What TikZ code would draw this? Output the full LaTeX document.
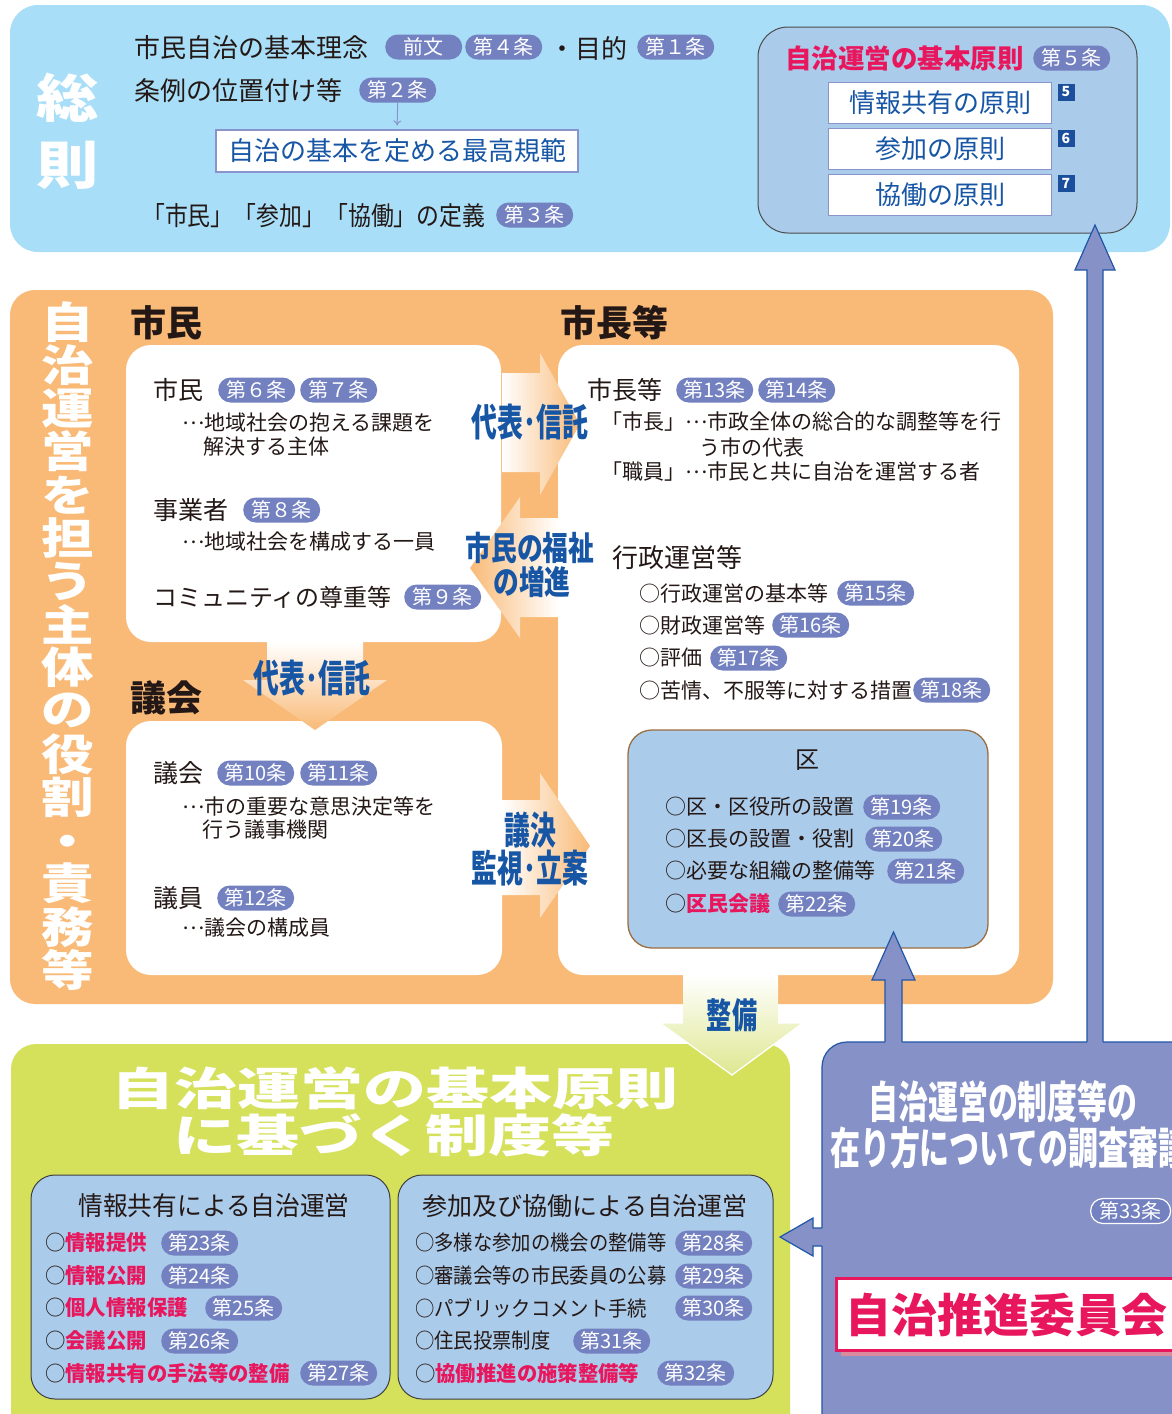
\documentclass[tikz,border=0pt]{standalone}
\usepackage{fontspec}
\setmainfont{Noto Sans CJK JP}
\usetikzlibrary{shapes.misc,arrows.meta}
\definecolor{skyc}{HTML}{A8DEF7}
\definecolor{orc}{HTML}{F9BA77}
\definecolor{grc}{HTML}{D5E05B}
\definecolor{ibc}{HTML}{ABCBEB}
\definecolor{ppc}{HTML}{8591C7}
\definecolor{bdc}{HTML}{7381C0}
\definecolor{redc}{HTML}{E8175D}
\definecolor{bluec}{HTML}{1656A5}
\definecolor{txc}{HTML}{231815}
\definecolor{navyc}{HTML}{1B4F9C}
\definecolor{pborder}{HTML}{2256A6}
\definecolor{lpur}{HTML}{8A93CC}
\definecolor{kuedge}{HTML}{9A6E40}
\definecolor{pinksh}{HTML}{D98A9C}
\definecolor{pgreen}{HTML}{DEE790}
\newcommand\fs[1]{\fontsize{#1}{#1}\selectfont}
\newcommand\sx[2]{\scalebox{#1}[1]{#2}}
\newcommand\dts{\raisebox{0.32em}{…}}
\begin{document}
\begin{tikzpicture}[x=1pt,y=-1pt,
 tx/.style={inner sep=0pt, anchor=west, text=txc},
 bd/.style={rounded rectangle, fill=bdc, text=white, inner sep=0pt, minimum height=25pt, minimum width=77pt, font=\fs{20}, anchor=west},
 wround/.style={fill=white, rounded corners=25pt, inner sep=0pt},
 ibox/.style={fill=ibc, draw=black!75, line width=1pt, rounded corners=24pt, inner sep=0pt},
 prbox/.style={fill=white, draw=lpur, line width=1.2pt, minimum width=223pt, minimum height=41pt, inner sep=0pt, font=\fs{26}, text=bluec},
 numsq/.style={fill=navyc, text=white, minimum size=17pt, inner sep=0pt, font=\fs{14}\bfseries},
 arrtx/.style={text=bluec, font=\fs{38}\bfseries, inner sep=0pt},
 wtitle/.style={text=white, font=\fs{50}\bfseries, inner sep=0pt},
 vchar/.style={text=white, font=\fs{43}\bfseries, inner sep=0pt},
 pfill/.style={fill=ppc},
 pline/.style={draw=pborder, line width=1.2pt, line join=miter},
 heading/.style={tx, font=\fs{36}\bfseries},
 item/.style={tx, font=\fs{25}},
 desc/.style={tx, font=\fs{21}},
 gitem/.style={tx, font=\fs{21}}
]
\useasboundingbox (0,0) rectangle (1172,1414);
\clip (0,0) rectangle (1172,1414);
\fill[white] (0,0) rectangle (1172,1414);

% ===== top section =====
\node[fill=skyc, rounded corners=28pt, minimum width=1160pt, minimum height=247pt, inner sep=0pt] (sky) at (590,128.5) {};
\node[wtitle, font=\fs{52}\bfseries] (so1) at (68,98) {\sx{1.2}{総}};
\node[wtitle, font=\fs{52}\bfseries] (so2) at (68,165) {\sx{1.2}{則}};

\node[tx, font=\fs{26}] (rinen) at (134,48) {市民自治の基本理念};
\node[bd] (bzen) at (385,47) {前文};
\node[bd] (b4) at (465,47) {第４条};
\node[tx, font=\fs{26}] (mokuteki) at (549,48) {・目的};
\node[bd] (b1) at (637,47) {第１条};
\node[tx, font=\fs{26}] (ichi) at (134,91) {条例の位置付け等};
\node[bd] (b2) at (359,90) {第２条};
\node[fill=white, draw=lpur, line width=1.2pt, minimum width=362pt, minimum height=42pt, inner sep=0pt, font=\fs{26}, text=bluec] (kihan) at (397,151) {自治の基本を定める最高規範};
\draw[lpur, line width=1pt, -{To[length=5pt,width=8pt]}, shorten >=4pt] (b2.south) -- (kihan.north);
\node[tx, font=\fs{26}] (teigi) at (142,216) {\sx{0.88}{「市民」「参加」「協働」の定義}};
\node[bd] (b3) at (496,215) {第３条};

\node[ibox, draw=black!70, rounded corners=30pt, minimum width=379pt, minimum height=206pt] (gbox) at (947.5,130) {};
\node[tx, font=\fs{26.5}\bfseries, text=redc] (gtitle) at (785,58) {自治運営の基本原則};
\node[bd] (b5) at (1033,58) {第５条};
\node[prbox] (g1) at (940,103) {情報共有の原則};
\node[prbox] (g2) at (940,149) {参加の原則};
\node[prbox] (g3) at (940,195) {協働の原則};
\node[numsq] (n5) at (1066,92) {5};
\node[numsq] (n6) at (1066,138) {6};
\node[numsq] (n7) at (1066,183) {7};

% ===== orange section =====
\node[fill=orc, rounded corners=25pt, minimum width=1043pt, minimum height=714pt, inner sep=0pt] (obox) at (531.5,647) {};
\foreach \c [count=\i from 0] in {自,治,運,営,を,担,う,主,体,の,役,割}
  \node[vchar] (v\i) at (68,322+43.2*\i) {\sx{1.22}{\c}};
\node[vchar] (vdot) at (68,846) {\sx{1.22}{・}};
\foreach \c [count=\i from 13] in {責,務,等}
  \node[vchar] (v\i) at (68,322+43.2*\i) {\sx{1.22}{\c}};

\node[heading] (hs) at (130,323) {市民};
\node[heading] (hm) at (560,323) {市長等};
\node[heading] (hg) at (130,698) {議会};

\node[wround, minimum width=375pt, minimum height=297pt] (bs) at (313.5,493.5) {};
\node[wround, minimum width=461pt, minimum height=630pt] (bm) at (788.5,660) {};
\node[wround, minimum width=376pt, minimum height=254pt] (bg) at (314,848) {};

% citizens
\node[item] (s1) at (153,390) {市民};
\node[bd] (b6) at (218,390) {第６条};
\node[bd] (b7) at (300,390) {第７条};
\node[desc] (s1a) at (182,423) {\dts 地域社会の抱える課題を};
\node[desc] (s1b) at (203,447) {解決する主体};
\node[item] (s2) at (153,510) {事業者};
\node[bd] (b8) at (243,510) {第８条};
\node[desc] (s2a) at (182,542) {\dts 地域社会を構成する一員};
\node[item, font=\fs{24}] (s3) at (153,597) {コミュニティの尊重等};
\node[bd] (b9) at (404,597) {第９条};

% mayor
\node[item] (m1) at (587,390) {市長等};
\node[bd] (b13) at (676,390) {第13条};
\node[bd] (b14) at (758,390) {第14条};
\node[desc] (m1a) at (601,422) {「市長」\dts 市政全体の総合的な調整等を行};
\node[desc] (m1b) at (699,447) {う市の代表};
\node[desc] (m1c) at (601,472) {「職員」\dts 市民と共に自治を運営する者};
\node[tx, font=\fs{26}] (m2) at (612,558) {行政運営等};
\node[desc] (m2a) at (639,593) {○行政運営の基本等};
\node[bd] (b15) at (837,593) {第15条};
\node[desc] (m2b) at (639,625) {○財政運営等};
\node[bd] (b16) at (772,625) {第16条};
\node[desc] (m2c) at (639,658) {○評価};
\node[bd] (b17) at (710,658) {第17条};
\node[desc] (m2d) at (639,690) {○苦情、不服等に対する措置};
\node[bd] (b18) at (913,690) {第18条};

% ward
\node[ibox, draw=kuedge, line width=1.3pt, minimum width=360pt, minimum height=218pt] (ku) at (808,839) {};
\node[font=\fs{24}, text=txc, inner sep=0pt] (kut) at (807,760) {区};
\node[desc] (k1) at (665,807) {○区・区役所の設置};
\node[bd] (b19) at (863,807) {第19条};
\node[desc] (k2) at (665,839) {○区長の設置・役割};
\node[bd] (b20) at (865,839) {第20条};
\node[desc] (k3) at (665,871) {○必要な組織の整備等};
\node[bd] (b21) at (887,871) {第21条};
\node[desc] (k4) at (665,904) {○\textcolor{redc}{\bfseries 区民会議}};
\node[bd] (b22) at (778,904) {第22条};

% council
\node[item] (g1i) at (153,773) {議会};
\node[bd] (b10) at (217,773) {第10条};
\node[bd] (b11) at (300,773) {第11条};
\node[desc] (g1a) at (182,807) {\dts 市の重要な意思決定等を};
\node[desc] (g1b) at (202,830) {行う議事機関};
\node[item] (g2i) at (153,898) {議員};
\node[bd] (b12) at (217,898) {第12条};
\node[desc] (g2a) at (182,928) {\dts 議会の構成員};

% ===== green section =====
\node[fill=grc, rounded corners=25pt, minimum width=779pt, minimum height=400pt, inner sep=0pt] (grbox) at (400.5,1244) {};
\node[wtitle, font=\fs{45}\bfseries] (gt1) at (395,1088) {\sx{1.4}{自治運営の基本原則}};
\node[wtitle, font=\fs{45}\bfseries] (gt2) at (394,1135) {\sx{1.4}{に基づく制度等}};

\node[ibox, minimum width=359pt, minimum height=224pt] (jbox) at (210.5,1287) {};
\node[ibox, minimum width=375pt, minimum height=224pt] (sbox) at (585.5,1287) {};
\node[font=\fs{26}, text=txc, inner sep=0pt] (jt) at (214,1206) {\sx{0.95}{情報共有による自治運営}};
\node[font=\fs{25}, text=txc, inner sep=0pt] (st) at (585,1206) {参加及び協働による自治運営};

\node[gitem] (j1) at (45,1243) {\sx{0.97}{○\textcolor{redc}{\bfseries 情報提供}}};
\node[bd] (b23) at (161,1243) {第23条};
\node[gitem] (j2) at (45,1276) {\sx{0.97}{○\textcolor{redc}{\bfseries 情報公開}}};
\node[bd] (b24) at (161,1276) {第24条};
\node[gitem] (j3) at (45,1308) {\sx{0.97}{○\textcolor{redc}{\bfseries 個人情報保護}}};
\node[bd] (b25) at (205,1308) {第25条};
\node[gitem] (j4) at (45,1341) {\sx{0.97}{○\textcolor{redc}{\bfseries 会議公開}}};
\node[bd] (b26) at (161,1341) {第26条};
\node[gitem] (j5) at (45,1373) {\sx{0.97}{○\textcolor{redc}{\bfseries 情報共有の手法等の整備}}};
\node[bd] (b27) at (300,1373) {第27条};

\node[gitem] (p1) at (415,1243) {\sx{0.92}{○多様な参加の機会の整備等}};
\node[bd] (b28) at (675,1243) {第28条};
\node[gitem] (p2) at (415,1276) {\sx{0.92}{○審議会等の市民委員の公募}};
\node[bd] (b29) at (675,1276) {第29条};
\node[gitem] (p3) at (415,1308) {\sx{0.92}{○パブリックコメント手続}};
\node[bd] (b30) at (675,1308) {第30条};
\node[gitem] (p4) at (415,1341) {\sx{0.92}{○住民投票制度}};
\node[bd] (b31) at (573,1341) {第31条};
\node[gitem] (p5) at (415,1373) {\sx{0.97}{○\textcolor{redc}{\bfseries 協働推進の施策整備等}}};
\node[bd] (b32) at (657,1373) {第32条};

% ===== purple section =====
\node[fill=ppc, draw=pborder, line width=1.2pt, rounded corners=25pt, minimum width=380pt, minimum height=400pt, inner sep=0pt] (pbox) at (1012,1242) {};
\node[text=white, font=\fs{44}\bfseries, inner sep=0pt] (pt1) at (1003,1102) {\sx{0.68}{自治運営の制度等の}};
\node[text=white, font=\fs{44}\bfseries, inner sep=0pt, anchor=west] (pt2) at (830,1148) {\sx{0.68}{在り方についての調査審議}};
\node[bd, draw=white, line width=1.2pt, minimum width=80pt] (b33) at (1090,1211) {第33条};
\fill[pinksh] (841,1284) rectangle (1190,1356);
\node[fill=white, draw=redc, line width=3pt, minimum width=360pt, minimum height=72pt, inner sep=0pt, anchor=west] (iin) at (835,1314) {};
\node[tx, text=redc, font=\fs{46}\bfseries] (iint) at (845,1315) {自治推進委員会};

% ===== fat arrows =====
\shade[left color=white, right color=orc] (502,373) -- (540,373) -- (540,353) -- (580,424) -- (540,495) -- (540,472) -- (502,472) -- cycle;
\node[arrtx] (a1t) at (530,422) {\sx{0.68}{代表･信託}};
\shade[left color=orc, right color=white] (558,518) -- (520,518) -- (520,497) -- (470,568) -- (520,638) -- (520,617) -- (558,617) -- cycle;
\node[arrtx, font=\fs{33}\bfseries] (a2t) at (530,548) {\sx{0.78}{市民の福祉}};
\node[arrtx, font=\fs{33}\bfseries] (a2u) at (532,582) {\sx{0.78}{の増進}};
\shade[top color=white, bottom color=orc] (267,642) -- (267,680) -- (243,680) -- (315,730) -- (387,680) -- (363,680) -- (363,642) -- cycle;
\node[arrtx] (a3t) at (312,678) {\sx{0.68}{代表･信託}};
\shade[left color=white, right color=orc] (502,800) -- (540,800) -- (540,773) -- (590,846) -- (540,918) -- (540,895) -- (502,895) -- cycle;
\node[arrtx] (a4t) at (530,830) {\sx{0.68}{議決}};
\node[arrtx] (a4u) at (530,868) {\sx{0.68}{監視･立案}};
\shade[top color=white, bottom color=pgreen] (683,975) -- (683,1023) -- (660,1023) -- (732,1075) -- (803,1023) -- (778,1023) -- (778,975) -- cycle;
\draw[white, line width=1.3pt] (683,1023) -- (660,1023) -- (732,1075) -- (803,1023) -- (778,1023);
\node[arrtx, font=\fs{35}\bfseries] (a5t) at (732,1015) {\sx{0.72}{整備}};

% ===== purple arrows =====
\fill[pfill] (885,1046) -- (885,980) -- (872,980) -- (893.5,932) -- (915,980) -- (902,980) -- (902,1046) -- cycle;
\draw[pline] (885,1042) -- (885,980) -- (872,980) -- (893.5,932) -- (915,980) -- (902,980) -- (902,1042);
\fill[pfill] (1087,1046) -- (1087,270) -- (1075,270) -- (1095,225) -- (1115,270) -- (1103,270) -- (1103,1046) -- cycle;
\draw[pline] (1087,1042) -- (1087,270) -- (1075,270) -- (1095,225) -- (1115,270) -- (1103,270) -- (1103,1042);
\fill[pfill] (824,1228) -- (813,1228) -- (813,1218) -- (780,1237) -- (813,1256) -- (813,1246) -- (824,1246) -- cycle;
\draw[pline] (822,1228) -- (813,1228) -- (813,1218) -- (780,1237) -- (813,1256) -- (813,1246) -- (822,1246);
\end{tikzpicture}
\end{document}
